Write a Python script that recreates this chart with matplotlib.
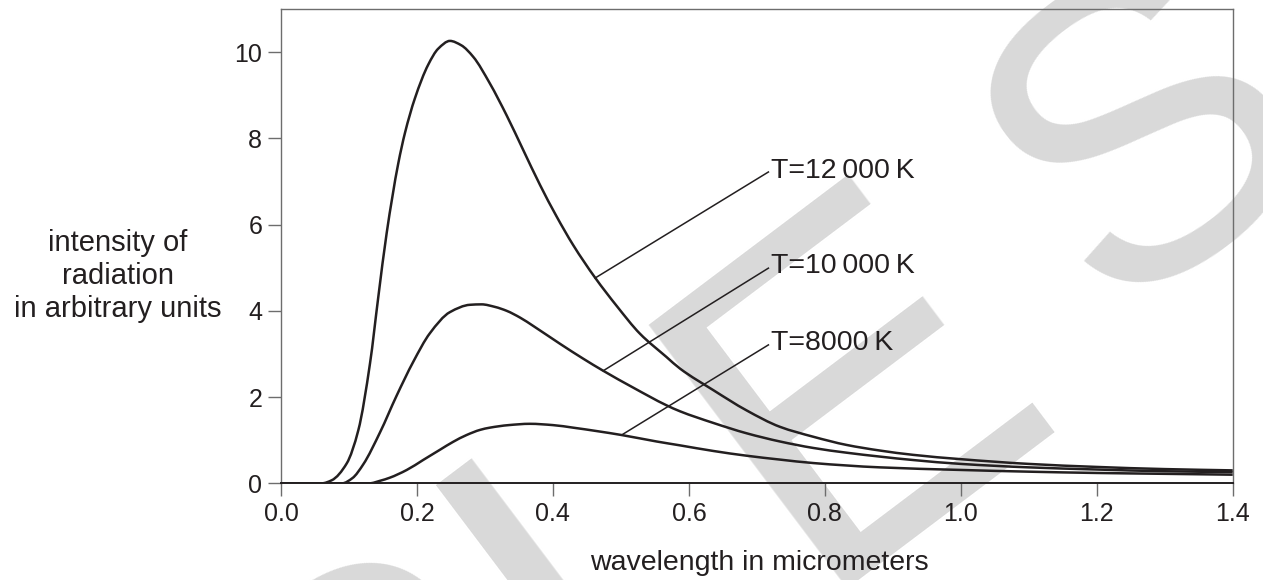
import matplotlib
matplotlib.use("Agg")
import matplotlib.pyplot as plt
from matplotlib.path import Path
from matplotlib.patches import PathPatch

plt.rcParams['font.family'] = ['Liberation Sans', 'DejaVu Sans']

# ---- data ----
lam12 = [0.0, 0.06, 0.0745, 0.0966, 0.1137, 0.1309, 0.1431, 0.1554, 0.1725, 0.1824,
         0.197, 0.2166, 0.2313, 0.2485, 0.265, 0.2828, 0.307, 0.332, 0.356, 0.381,
         0.405, 0.430, 0.462, 0.494, 0.528, 0.567, 0.587, 0.636, 0.685, 0.734,
         0.783, 0.832, 0.881, 0.930, 1.0, 1.1, 1.2, 1.3, 1.4]
int12 = [0.0, 0.0, 0.07, 0.46, 1.23, 2.78, 4.32, 5.80, 7.42, 8.13,
         8.93, 9.71, 10.08, 10.26, 10.16, 9.89, 9.28, 8.53, 7.74, 6.92,
         6.20, 5.52, 4.77, 4.11, 3.47, 2.93, 2.66, 2.16, 1.69, 1.31,
         1.08, 0.89, 0.76, 0.66, 0.56, 0.45, 0.38, 0.33, 0.30]

lam10 = [0.0, 0.09, 0.105, 0.121, 0.1456, 0.170, 0.1946, 0.219, 0.2485, 0.278,
         0.295, 0.315, 0.332, 0.352, 0.371, 0.410, 0.4446, 0.474, 0.518, 0.567,
         0.587, 0.636, 0.685, 0.734, 0.783, 0.832, 0.930, 1.0, 1.1, 1.2,
         1.3, 1.4]
int10 = [0.0, 0.0, 0.12, 0.44, 1.18, 2.03, 2.82, 3.48, 3.97, 4.14,
         4.15, 4.09, 4.00, 3.84, 3.65, 3.24, 2.89, 2.61, 2.22, 1.81,
         1.67, 1.40, 1.16, 0.97, 0.82, 0.71, 0.54, 0.45, 0.37, 0.32,
         0.28, 0.26]

lam8 = [0.0, 0.13, 0.146, 0.160, 0.185, 0.209, 0.234, 0.253, 0.273, 0.293,
        0.307, 0.335, 0.366, 0.400, 0.430, 0.465, 0.501, 0.5525, 0.587, 0.636,
        0.685, 0.734, 0.783, 0.881, 1.0, 1.1, 1.2, 1.3, 1.4]
int8 = [0.0, 0.0, 0.06, 0.13, 0.31, 0.54, 0.78, 0.96, 1.12, 1.24,
        1.29, 1.35, 1.38, 1.35, 1.29, 1.21, 1.12, 0.97, 0.88, 0.75,
        0.64, 0.55, 0.47, 0.37, 0.31, 0.27, 0.24, 0.22, 0.20]

labels = ["T=12\u2009000\u2009K", "T=10\u2009000\u2009K", "T=8000\u2009K"]
leader_x0 = [0.462, 0.474, 0.501]
leader_y0 = [4.76, 2.61, 1.12]
leader_x1 = [0.717, 0.717, 0.717]
leader_y1 = [7.22, 4.99, 3.21]
label_y = [7.08, 4.87, 3.09]

xticks = [0.0, 0.2, 0.4, 0.6, 0.8, 1.0, 1.2, 1.4]
xticklabels = ["0.0", "0.2", "0.4", "0.6", "0.8", "1.0", "1.2", "1.4"]
yticks = [0, 2, 4, 6, 8, 10]

ink = '#231f20'
grey = '#6d6d6d'


def smooth_path(xs, ys):
    """Monotone cubic (Hermite) path through the read points, as Bezier segments."""
    n = len(xs)
    h = [xs[i + 1] - xs[i] for i in range(n - 1)]
    d = [(ys[i + 1] - ys[i]) / h[i] for i in range(n - 1)]
    m = [0.0] * n
    m[0] = d[0]
    m[-1] = d[-1]
    for i in range(1, n - 1):
        if d[i - 1] * d[i] <= 0:
            m[i] = 0.0
        else:
            w1 = 2 * h[i] + h[i - 1]
            w2 = h[i] + 2 * h[i - 1]
            m[i] = (w1 + w2) / (w1 / d[i - 1] + w2 / d[i])
    verts = [(xs[0], ys[0])]
    codes = [Path.MOVETO]
    for i in range(n - 1):
        dx = h[i] / 3.0
        verts += [(xs[i] + dx, ys[i] + m[i] * dx),
                  (xs[i + 1] - dx, ys[i + 1] - m[i + 1] * dx),
                  (xs[i + 1], ys[i + 1])]
        codes += [Path.CURVE4] * 3
    return Path(verts, codes)


fig = plt.figure(figsize=(12.63, 5.80), dpi=100)
fig.patch.set_facecolor('white')

# watermark (behind everything)
fig.text(1067 / 1263, 1 - 406 / 580, "SAMPLE", fontsize=345, color='#d9d9d9',
         rotation=37, rotation_mode='anchor', ha='right', va='baseline', zorder=-10)
fig.text(1333 / 1263, 1 - 147 / 580, "S", fontsize=305, color='#d9d9d9',
         rotation=37, rotation_mode='anchor', ha='right', va='baseline', zorder=-10)

ax = fig.add_axes([0.2225, 0.1667, 0.7535, 0.8178])
ax.patch.set_alpha(0)
ax.set_zorder(1)

for lam, val in [(lam12, int12), (lam10, int10), (lam8, int8)]:
    ax.add_patch(PathPatch(smooth_path(lam, val), fill=False, edgecolor=ink,
                           lw=1.8, joinstyle='round', zorder=3))

for i in range(3):
    ax.plot([leader_x0[i], leader_x1[i]], [leader_y0[i], leader_y1[i]],
            color=ink, lw=1.1, zorder=3)
    ax.text(leader_x1[i] + 0.004, label_y[i], labels[i], fontsize=20.5,
            color=ink, ha='left', va='baseline')

ax.set_xlim(0, 1.4)
ax.set_ylim(0, 11)
ax.set_xticks(xticks)
ax.set_xticklabels(xticklabels)
ax.set_yticks(yticks)

for s in ['left', 'top', 'right']:
    ax.spines[s].set_color(grey)
    ax.spines[s].set_linewidth(1.0)
ax.spines['bottom'].set_color(ink)
ax.spines['bottom'].set_linewidth(1.4)

ax.tick_params(axis='both', direction='out', length=9.5, width=1.0, color=grey,
               labelsize=18, labelcolor=ink)
ax.tick_params(axis='x', pad=4)
ax.tick_params(axis='y', pad=4)

fig.text(759 / 1263, 1 - 563 / 580, "wavelength in micrometers", fontsize=20.5,
         color=ink, ha='center', va='center')
fig.text(118 / 1263, 1 - 276 / 580, "intensity of\nradiation\nin arbitrary units",
         fontsize=21, color=ink, ha='center', va='center', linespacing=1.22)

fig.savefig("out.png", dpi=100)
